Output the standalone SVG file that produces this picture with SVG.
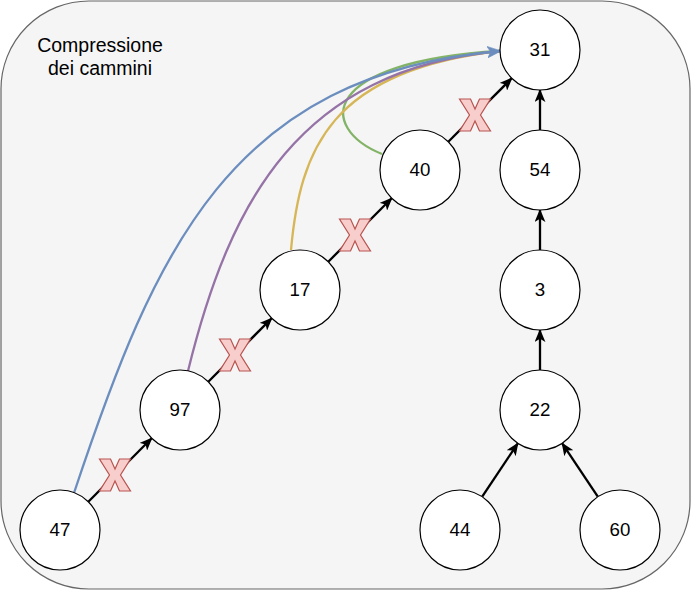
<svg xmlns="http://www.w3.org/2000/svg" width="691" height="591" viewBox="0 0 691 591">
<defs>
<style>
.bg{fill:#f5f5f5;stroke:#666666;stroke-width:1.2}
.node circle{fill:#ffffff;stroke:#000000;stroke-width:1.2}
.node text,.title{font-family:"Liberation Sans",Arial,sans-serif;font-size:18.7px;fill:#000000;text-anchor:middle}
.title{font-size:19.5px}
.edge{stroke:#000000;stroke-width:2.3;fill:none;marker-end:url(#arr)}
.curve{fill:none;stroke-width:2.3}
.xmark{fill:#f8cecc;stroke:#b85450;stroke-width:1.2}
</style>
<marker id="arr" viewBox="0 0 12 10" refX="11" refY="5" markerWidth="13" markerHeight="11" markerUnits="userSpaceOnUse" orient="auto">
<path d="M0,0 L12,5 L0,10 L3,5 Z" fill="#000000"/>
</marker>
<marker id="arrBlue" viewBox="0 0 12 10" refX="11" refY="5" markerWidth="14" markerHeight="12" markerUnits="userSpaceOnUse" orient="auto">
<path d="M0,0 L12,5 L0,10 L3,5 Z" fill="#6c8ebf" stroke="#6c8ebf" stroke-width="0.5"/>
</marker>
<polygon id="x" points="0,0 11,0 15.5,10 20,0 31,0 21,16 31,32 20,32 15.5,22 11,32 0,32 10,16"/>
</defs>
<rect class="bg" x="1" y="1" width="689" height="588" rx="88" ry="88"/>
<text class="title" x="100" y="52">Compressione</text>
<text class="title" x="100" y="75">dei cammini</text>

<g id="connectors">
<path class="curve" stroke="#82b366" d="M382,154 C318,128 318,62 500,51"/>
<path class="curve" stroke="#d6b656" d="M291,250 C300,150 330,70 500,51"/>
<path class="curve" stroke="#9673a6" d="M188,371 C230,200 300,70 500,51"/>
<path class="curve" stroke="#6c8ebf" d="M74,493 C155,250 230,75 500,51" marker-end="url(#arrBlue)"/>
<line class="edge" x1="88.3" y1="501.7" x2="151.7" y2="438.3"/>
<line class="edge" x1="208.3" y1="381.7" x2="271.7" y2="318.3"/>
<line class="edge" x1="328.3" y1="261.7" x2="391.7" y2="198.3"/>
<line class="edge" x1="448.3" y1="141.7" x2="511.7" y2="78.3"/>
<line class="edge" x1="540" y1="130" x2="540" y2="90"/>
<line class="edge" x1="540" y1="250" x2="540" y2="210"/>
<line class="edge" x1="540" y1="370" x2="540" y2="330"/>
<line class="edge" x1="482.2" y1="496.7" x2="517.8" y2="443.3"/>
<line class="edge" x1="597.8" y1="496.7" x2="562.2" y2="443.3"/>
<use href="#x" class="xmark" x="99.5" y="459"/>
<use href="#x" class="xmark" x="219.5" y="339"/>
<use href="#x" class="xmark" x="339.5" y="219"/>
<use href="#x" class="xmark" x="459.5" y="99"/>
</g>

<g id="n31" class="node"><circle cx="540" cy="50" r="40"/><text x="540" y="55.5">31</text></g>
<g id="n54" class="node"><circle cx="540" cy="170" r="40"/><text x="540" y="175.5">54</text></g>
<g id="n3" class="node"><circle cx="540" cy="290" r="40"/><text x="540" y="295.5">3</text></g>
<g id="n22" class="node"><circle cx="540" cy="410" r="40"/><text x="540" y="415.5">22</text></g>
<g id="n44" class="node"><circle cx="460" cy="530" r="40"/><text x="460" y="535.5">44</text></g>
<g id="n60" class="node"><circle cx="620" cy="530" r="40"/><text x="620" y="535.5">60</text></g>
<g id="n40" class="node"><circle cx="420" cy="170" r="40"/><text x="420" y="175.5">40</text></g>
<g id="n17" class="node"><circle cx="300" cy="290" r="40"/><text x="300" y="295.5">17</text></g>
<g id="n97" class="node"><circle cx="180" cy="410" r="40"/><text x="180" y="415.5">97</text></g>
<g id="n47" class="node"><circle cx="60" cy="530" r="40"/><text x="60" y="535.5">47</text></g>
</svg>
